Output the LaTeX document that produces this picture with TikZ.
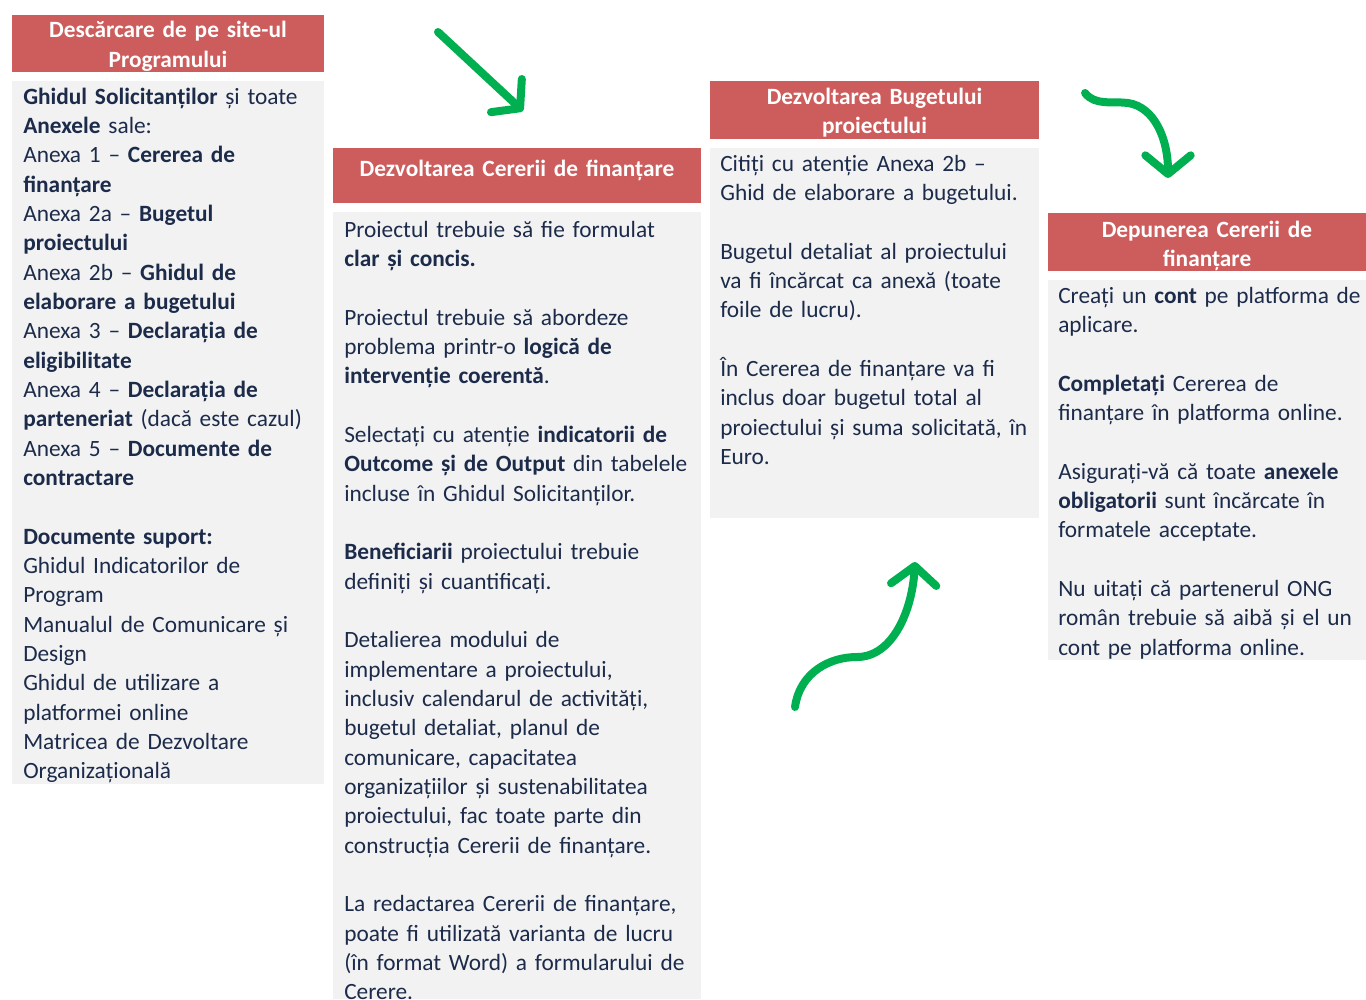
\documentclass[tikz,border=0pt]{standalone}
\usepackage{fontspec}
\setmainfont{Carlito}
\usetikzlibrary{arrows.meta,fit}
\definecolor{hdrred}{HTML}{CD5C5C}
\definecolor{bodygray}{HTML}{F2F2F2}
\definecolor{navy}{HTML}{1C2B4A}
\definecolor{arrowgreen}{HTML}{00B050}
\tikzset{
  hdrbox/.style={fill=hdrred, draw=none, inner sep=0pt},
  bodybox/.style={fill=bodygray, draw=none, inner sep=0pt},
  bodytxt/.style={text=navy, align=left, inner sep=0pt, anchor=base west, text width=330pt,
    font=\fontsize{17.5pt}{22pt}\selectfont},
  hdrtxt/.style={text=white, align=center, inner sep=0pt, anchor=base,
    font=\fontsize{17.5pt}{22pt}\selectfont\bfseries},
  greenarrow/.style={draw=arrowgreen, line width=6pt, line cap=round,
    -{Straight Barb[length=14pt,width=34pt,round,line width=6pt]}}
}
\begin{document}
\begin{tikzpicture}[x=0.75pt,y=-0.75pt]
\useasboundingbox (0,0) rectangle (1366,999);
% boxes
\node[hdrbox, fit={(12,15) (324,72)}] (h1) {};
\node[bodybox, fit={(12,81) (324,784)}] (b1) {};
\node[hdrbox, fit={(333,148) (701,203)}] (h2) {};
\node[bodybox, fit={(333,212) (701,999)}] (b2) {};
\node[hdrbox, fit={(710,81) (1039,139)}] (h3) {};
\node[bodybox, fit={(710,148) (1039,518)}] (b3) {};
\node[hdrbox, fit={(1048,213) (1366,271)}] (h4) {};
\node[bodybox, fit={(1048,280) (1366,660)}] (b4) {};
% headers
\node[hdrtxt, text width=234pt] (t1) at (168,38) {Descărcare de pe site-ul\\Programului};
\node[hdrtxt, text width=276pt] (t2) at (517,176) {Dezvoltarea Cererii de finanțare};
\node[hdrtxt, text width=246pt] (t3) at (874.5,104) {Dezvoltarea Bugetului\\proiectului};
\node[hdrtxt, text width=238pt] (t4) at (1207,237) {Depunerea Cererii de\\finanțare};
% body texts
\node[bodytxt] (x1) at (23,104) {\textbf{Ghidul Solicitanților} și toate\\
\textbf{Anexele} sale:\\
Anexa 1 – \textbf{Cererea de}\\
\textbf{finanțare}\\
Anexa 2a – \textbf{Bugetul}\\
\textbf{proiectului}\\
Anexa 2b – \textbf{Ghidul de}\\
\textbf{elaborare a bugetului}\\
Anexa 3 – \textbf{Declarația de}\\
\textbf{eligibilitate}\\
Anexa 4 – \textbf{Declarația de}\\
\textbf{parteneriat} (dacă este cazul)\\
Anexa 5 – \textbf{Documente de}\\
\textbf{contractare}\\[22pt]
\textbf{Documente suport:}\\
Ghidul Indicatorilor de\\
Program\\
Manualul de Comunicare și\\
Design\\
Ghidul de utilizare a\\
platformei online\\
Matricea de Dezvoltare\\
Organizațională};
\node[bodytxt] (x2) at (344,237) {Proiectul trebuie să fie formulat\\
\textbf{clar și concis.}\\[22pt]
Proiectul trebuie să abordeze\\
problema printr-o \textbf{logică de}\\
\textbf{intervenție coerentă}.\\[22pt]
Selectați cu atenție \textbf{indicatorii de}\\
\textbf{Outcome și de Output} din tabelele\\
incluse în Ghidul Solicitanților.\\[22pt]
\textbf{Beneficiarii} proiectului trebuie\\
definiți și cuantificați.\\[22pt]
Detalierea modului de\\
implementare a proiectului,\\
inclusiv calendarul de activități,\\
bugetul detaliat, planul de\\
comunicare, capacitatea\\
organizațiilor și sustenabilitatea\\
proiectului, fac toate parte din\\
construcția Cererii de finanțare.\\[22pt]
La redactarea Cererii de finanțare,\\
poate fi utilizată varianta de lucru\\
(în format Word) a formularului de\\
Cerere.};
\node[bodytxt] (x3) at (720,171) {Citiți cu atenție Anexa 2b –\\
Ghid de elaborare a bugetului.\\[22pt]
Bugetul detaliat al proiectului\\
va fi încărcat ca anexă (toate\\
foile de lucru).\\[22pt]
În Cererea de finanțare va fi\\
inclus doar bugetul total al\\
proiectului și suma solicitată, în\\
Euro.};
\node[bodytxt] (x4) at (1058,303) {Creați un \textbf{cont} pe platforma de\\
aplicare.\\[22pt]
\textbf{Completați} Cererea de\\
finanțare în platforma online.\\[22pt]
Asigurați-vă că toate \textbf{anexele}\\
\textbf{obligatorii} sunt încărcate în\\
formatele acceptate.\\[22pt]
Nu uitați că partenerul ONG\\
român trebuie să aibă și el un\\
cont pe platforma online.};
% arrows
\coordinate (a1s) at (438,32);
\coordinate (a1e) at (523,111);
\draw[greenarrow] (a1s) -- (a1e);
\coordinate (a2s) at (1085,93);
\coordinate (a2m) at (1128,103);
\coordinate (a2e) at (1168,178);
\draw[greenarrow] (a2s) .. controls (1095,106) and (1113,101) .. (a2m)
  .. controls (1155,107) and (1168,140) .. (a2e);
\coordinate (a3s) at (795,707);
\coordinate (a3m) at (857,657);
\coordinate (a3e) at (915,562);
\draw[greenarrow] (a3s) .. controls (800,672) and (830,657) .. (a3m)
  .. controls (892,657) and (912,612) .. (a3e);
\end{tikzpicture}
\end{document}
